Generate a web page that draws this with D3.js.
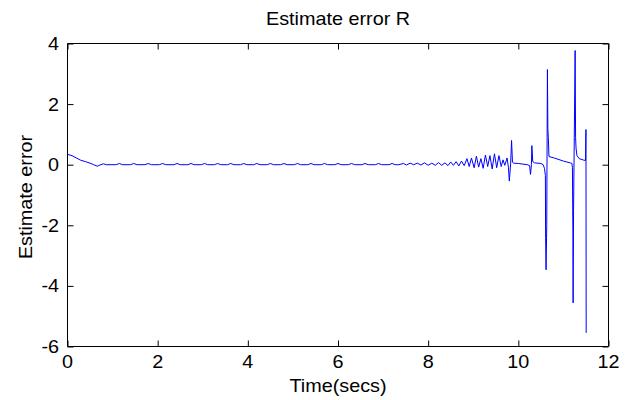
<!DOCTYPE html>
<html><head><meta charset="utf-8">
<script src="https://cdn.jsdelivr.net/npm/d3@7"></script>
<style>
body{margin:0;background:#fff;}
text{font-family:"Liberation Sans",Arial,sans-serif;fill:#000;}
</style></head>
<body><svg id="c" width="633" height="400"></svg>
<script>
const title = "Estimate error R";
const xLabel = "Time(secs)";
const yLabel = "Estimate error";
const xTicks = [0,2,4,6,8,10,12];
const yTicks = [-6,-4,-2,0,2,4];
const timeSecs = [
 0,0.1,0.2,0.29,0.4,0.5,0.58,0.66,0.72,0.8,0.86,
 1.08,1.15,1.22, 1.40,1.47,1.54, 1.72,1.79,1.86, 2.04,2.11,2.18, 2.36,2.43,2.50, 2.67,2.74,2.81,
 2.97,3.04,3.11, 3.26,3.33,3.40, 3.55,3.62,3.69, 3.84,3.91,3.98, 4.13,4.20,4.27, 4.43,4.50,4.57,
 4.73,4.80,4.87, 5.03,5.10,5.17, 5.33,5.40,5.47, 5.63,5.70,5.77, 5.93,6.00,6.07, 6.23,6.30,6.37,
 6.53,6.60,6.67, 6.83,6.90,6.97, 7.13,7.20,7.27,
 7.35,7.45,7.52,7.6,7.68,7.76,7.84,7.92,8.0,8.08,8.16,8.23,8.3,8.37,8.44,8.5,8.56,8.62,8.68,8.74,8.8,
 8.86,8.91,8.96,9.02,9.07,9.12,9.17,9.22,9.27,9.32,9.37,9.42,9.47,9.52,9.57,9.62,9.66,9.7,9.75,9.78,
 9.8,9.83,9.85,9.87,9.9,10.0,10.2,10.25,10.27,10.29,10.3,10.32,10.36,10.5,10.55,10.58,10.6,
 10.605,10.615,10.63,10.645,10.655,10.665,10.68,10.8,11.0,11.15,11.19,11.2,11.21,11.215,11.225,
 11.26,11.27,11.28,11.3,11.35,11.45,11.49,11.5,11.505
];
const errorR = [
 0.34,0.3,0.22,0.15,0.1,0.05,0.0,-0.05,-0.01,0.03,0.0,
 0,0.04,0, 0,0.04,0, 0,0.04,0, 0,0.04,0, 0,0.04,0, 0,0.04,0,
 0,0.04,0, 0,0.04,0, 0,0.04,0, 0,0.04,0, 0,0.04,0, 0,0.04,0,
 0,0.04,0, 0,0.04,0, 0,0.04,0, 0,0.04,0, 0,0.04,0, 0,0.04,0,
 0,0.04,0, 0,0.04,0, 0,0.04,0,
 0.0,0.04,-0.01,0.05,0.0,0.05,-0.01,0.06,-0.02,0.05,-0.02,0.07,-0.02,0.06,-0.03,0.09,-0.02,0.1,-0.04,0.12,-0.03,
 0.2,-0.06,0.22,-0.1,0.28,-0.08,0.2,-0.12,0.32,-0.06,0.3,-0.14,0.36,-0.1,0.3,-0.06,0.16,-0.02,0.22,-0.08,
 -0.54,0.05,0.8,0.08,0.05,0.04,0.0,-0.03,-0.32,0.0,0.63,0.1,0.06,0.04,0.0,-0.12,-0.35,
 -2.4,-3.47,-2.0,3.14,1.2,0.9,0.27,0.22,0.12,0.06,0.04,-0.1,-2.15,-4.56,-1.5,
 3.77,0.9,0.55,0.3,0.2,0.15,0.14,1.16,-5.55
];
const data = timeSecs.map((t,i)=>({t, v: errorR[i]}));

const svg = d3.select("#c");
const L=67.5, R=608.5, T=43.5, B=346.5;
const x = d3.scaleLinear().domain([0,12]).range([L,R]);
const y = d3.scaleLinear().domain([-6,4]).range([B,T]);
const fs = 18, sx = 1.1, tickLen = 6;

function label(px, py, anchor, str, rot){
  svg.append("text")
    .attr("transform", `translate(${px},${py})` + (rot ? ` rotate(${rot})` : "") + ` scale(${sx},1)`)
    .attr("text-anchor", anchor).attr("font-size", fs).text(str);
}

// data line
svg.append("path").datum(data)
  .attr("fill","none").attr("stroke","#0000ff").attr("stroke-width",1)
  .attr("d", d3.line().x(d=>x(d.t)).y(d=>y(d.v)));

// axes (inward ticks, full box)
const axB = d3.axisBottom(x).tickValues(xTicks).tickSize(-tickLen).tickFormat("");
const axT = d3.axisTop(x).tickValues(xTicks).tickSize(-tickLen).tickFormat("");
const axL = d3.axisLeft(y).tickValues(yTicks).tickSize(-tickLen).tickFormat("");
const axR = d3.axisRight(y).tickValues(yTicks).tickSize(-tickLen).tickFormat("");
function style(g){
  g.selectAll("path.domain").attr("stroke","#000").attr("stroke-width",1);
  g.selectAll(".tick line").attr("stroke","#000");
}
svg.append("g").attr("transform",`translate(0,${B})`).call(axB).call(style).call(g=>g.select(".domain").attr("d",`M${L},0H${R}`));
svg.append("g").attr("transform",`translate(0,${T})`).call(axT).call(style).call(g=>g.select(".domain").attr("d",`M${L},0H${R}`));
svg.append("g").attr("transform",`translate(${L},0)`).call(axL).call(style).call(g=>g.select(".domain").attr("d",`M0,${B}V${T}`));
svg.append("g").attr("transform",`translate(${R},0)`).call(axR).call(style).call(g=>g.select(".domain").attr("d",`M0,${B}V${T}`));

// tick labels
xTicks.forEach(d => label(x(d), 368, "middle", String(d)));
yTicks.forEach(d => label(59, y(d) + 6.5, "end", String(d)));

// title and axis labels
label((L+R)/2, 25, "middle", title);
label((L+R)/2, 392, "middle", xLabel);
label(32, (T+B)/2 + 2, "middle", yLabel, -90);
</script></body></html>
